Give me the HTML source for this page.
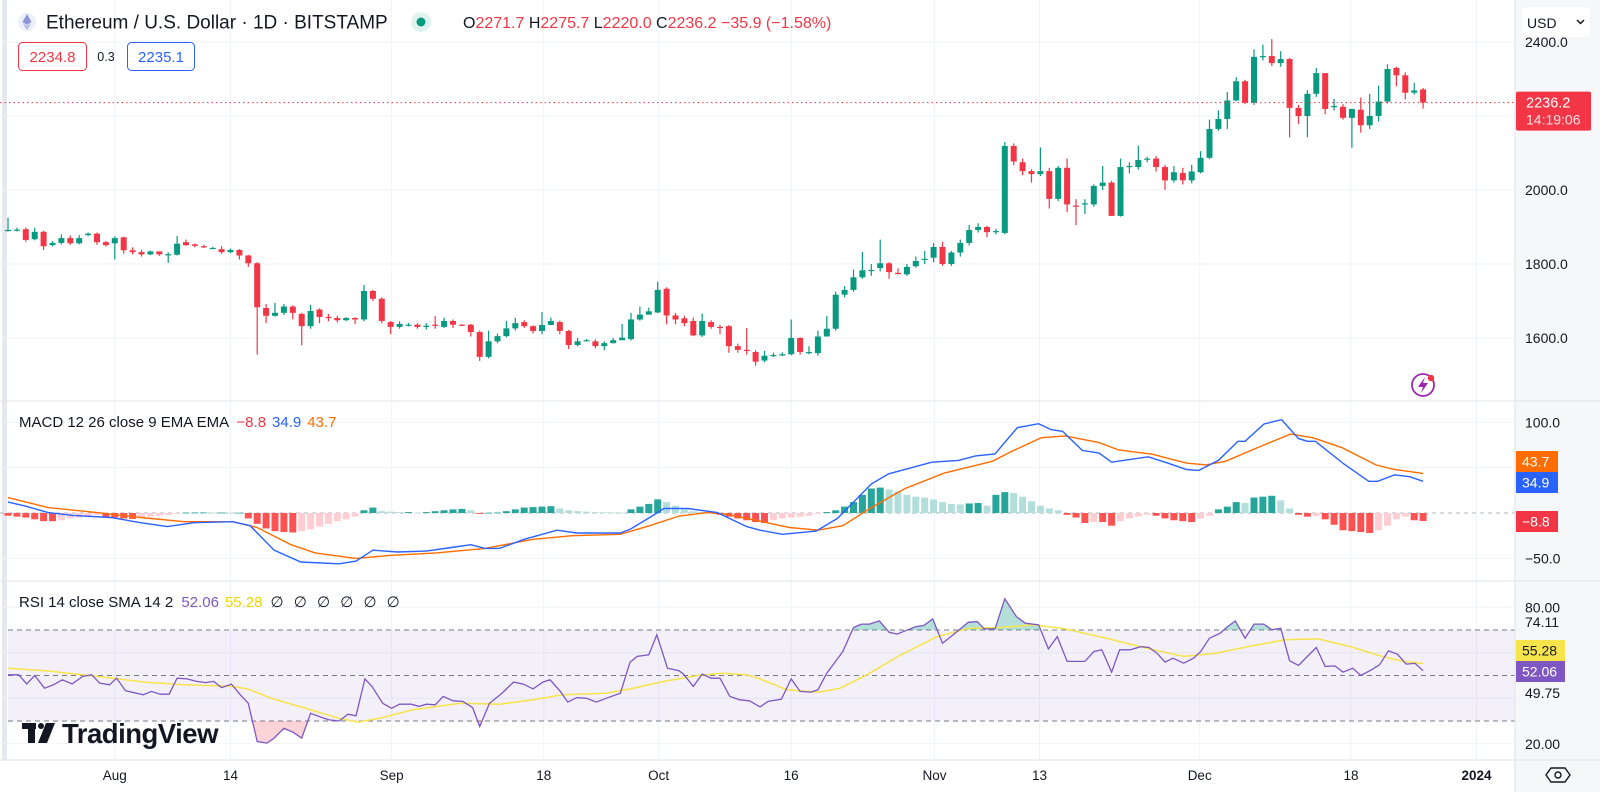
<!DOCTYPE html>
<html><head><meta charset="utf-8"><style>
html,body{margin:0;padding:0;background:#fff;}
svg{display:block;font-family:"Liberation Sans",sans-serif;}
</style></head><body>
<svg id="chart" width="1600" height="792" viewBox="0 0 1600 792" xmlns="http://www.w3.org/2000/svg">
<rect x="0" y="0" width="1600" height="792" fill="#ffffff"/>
<rect x="1515" y="0" width="85" height="792" fill="#f6f7f8"/>
<rect x="2" y="0" width="5" height="760" fill="#e6e8ee"/>
<g id="grid"></g>
<g id="rsiBand"></g>
<g id="candles"></g>
<g id="macd"></g>
<g id="rsi"></g>
<g id="axes"></g>
<line x1="0" y1="401" x2="1600" y2="401" stroke="#e0e3eb" stroke-width="1"/>
<line x1="0" y1="581" x2="1600" y2="581" stroke="#e0e3eb" stroke-width="1"/>
<line x1="0" y1="760" x2="1600" y2="760" stroke="#e0e3eb" stroke-width="1"/>
<line x1="1515" y1="0" x2="1515" y2="792" stroke="#e0e3eb" stroke-width="1"/>
<g>
  <circle cx="27" cy="22" r="9" fill="#eef0f8"/>
  <polygon points="27,14 31.5,22 27,25 22.5,22" fill="#8c93d6"/>
  <polygon points="22.5,23 27,26 31.5,23 27,30" fill="#b0b5e6"/>
  <text x="46" y="28.5" font-size="19" fill="#131722">Ethereum / U.S. Dollar · 1D · BITSTAMP</text>
  <circle cx="421" cy="22" r="10" fill="#e0f3ef"/>
  <circle cx="421" cy="22" r="4.5" fill="#089981"/>
  <text x="463" y="28" font-size="16" fill="#131722">O<tspan fill="#f23645">2271.7</tspan> H<tspan fill="#f23645">2275.7</tspan> L<tspan fill="#f23645">2220.0</tspan> C<tspan fill="#f23645">2236.2</tspan><tspan fill="#f23645"> −35.9 (−1.58%)</tspan></text>
  <rect x="18.5" y="42.5" width="68" height="28" rx="4" fill="#fff" stroke="#f23645"/>
  <text x="52.5" y="62" font-size="15" fill="#f23645" text-anchor="middle">2234.8</text>
  <text x="106" y="61" font-size="12.5" fill="#131722" text-anchor="middle">0.3</text>
  <rect x="127.5" y="42.5" width="67" height="28" rx="4" fill="#fff" stroke="#2962ff"/>
  <text x="161" y="62" font-size="15" fill="#2962ff" text-anchor="middle">2235.1</text>
</g>
<g>
  <rect x="1522" y="7" width="68" height="30" rx="4" fill="#ffffff"/>
  <text x="1527" y="28" font-size="14" fill="#131722">USD</text>
  <polyline points="1577,20 1580.5,23.5 1584,20" fill="none" stroke="#131722" stroke-width="1.5"/>
</g>
<g>
  <rect x="22" y="723" width="14" height="6" fill="#131722"/>
  <rect x="28" y="723" width="7" height="20" fill="#131722"/>
  <circle cx="41" cy="726" r="3" fill="#131722"/>
  <polygon points="46,723 55,723 47,743 38,743" fill="#131722"/>
  <text x="62" y="743" font-size="27.5" font-weight="bold" fill="#131722" letter-spacing="-0.5">TradingView</text>
</g>
<g>
  <circle cx="1423" cy="385" r="11" fill="#fff" stroke="#9c27b0" stroke-width="1.8"/>
  <polygon points="1425,377 1418,387 1423,387 1421,393 1428,383 1423,383" fill="#9c27b0"/>
  <circle cx="1431" cy="378" r="3.2" fill="#f23645"/>
</g>
<text x="19" y="427" font-size="15" fill="#131722">MACD 12 26 close 9 EMA EMA <tspan fill="#f23645" dx="4">−8.8</tspan><tspan fill="#2962ff" dx="6">34.9</tspan><tspan fill="#ff6d00" dx="6">43.7</tspan></text>
<text x="19" y="607" font-size="15" fill="#131722">RSI 14 close SMA 14 2 <tspan fill="#7e57c2" dx="4">52.06</tspan><tspan fill="#f2d600" dx="6">55.28</tspan><tspan dx="8" letter-spacing="3">∅ ∅ ∅ ∅ ∅ ∅</tspan></text>
<g>
  <polygon points="1551,768 1565,768 1570,775 1565,782 1551,782 1546,775" fill="none" stroke="#131722" stroke-width="1.4"/>
  <circle cx="1558" cy="775" r="3" fill="none" stroke="#131722" stroke-width="1.4"/>
</g>
</svg>
<script>
const candleOpen = [1892,1892,1894,1867,1887,1851,1857,1870,1856,1878,1882,1859,1856,1872,1837,1832,1826,1834,1826,1825,1859,1853,1848,1843,1840,1832,1838,1823,1802,1681,1660,1668,1685,1665,1632,1677,1657,1654,1648,1654,1650,1727,1706,1643,1630,1636,1636,1632,1636,1630,1646,1636,1636,1616,1549,1591,1605,1626,1643,1632,1619,1635,1643,1619,1581,1592,1591,1578,1586,1594,1597,1650,1663,1669,1733,1661,1653,1646,1607,1643,1630,1632,1578,1568,1562,1539,1553,1555,1556,1600,1562,1559,1604,1625,1717,1730,1764,1783,1789,1802,1776,1772,1794,1811,1817,1846,1800,1831,1857,1892,1900,1886,1884,2119,2075,2051,2043,2051,1976,2060,1958,1963,1961,2011,2020,1930,2064,2062,2084,2085,2062,2026,2046,2026,2048,2087,2165,2192,2242,2294,2236,2360,2362,2343,2354,2222,2200,2260,2316,2224,2225,2195,2217,2175,2200,2239,2330,2310,2263,2271.7];
const candleClose = [1892,1893,1865,1887,1848,1857,1870,1856,1870,1882,1859,1851,1870,1837,1832,1826,1834,1826,1826.5,1855,1851,1849,1847,1843.5,1832,1838,1823,1802,1683,1660,1668,1685,1668,1632,1673,1657,1654,1648,1654,1650,1727,1706,1646,1630,1638,1636,1630,1633,1635,1646,1636,1635,1616,1549,1591,1605,1626,1640,1632,1619,1635,1646,1619,1581,1591,1594,1578,1586,1594,1601,1650,1663,1672,1730,1661,1650,1640,1607,1646,1630,1629,1578,1568,1567,1536,1552,1554,1556,1600,1562,1562,1604,1625,1717,1730,1764,1783,1784,1802,1778,1775,1792,1808,1814,1846,1800,1831,1857,1892,1900,1886,1889,2119,2077,2051,2043,2051,1976,2060,1961,1957,1964,2011,2020,1930,2062,2065,2081,2085,2062,2026,2048,2026,2050,2087,2165,2192,2242,2294,2236,2360,2362,2343,2354,2222,2200,2260,2316,2219,2227,2195,2219,2175,2200,2239,2327,2310,2263,2269,2236.2];
const candleHigh = [1925,1898,1898,1898,1890,1862,1880,1877,1878,1885,1885,1862,1875,1874,1845,1838,1836,1834,1832,1876,1866,1855,1852,1846,1848,1842,1840,1825,1805,1692,1695,1692,1688,1668,1690,1680,1665,1660,1656,1656,1743,1730,1710,1646,1645,1641,1640,1640,1659,1655,1650,1638,1638,1620,1620,1612,1646,1655,1648,1634,1670,1655,1647,1622,1600,1597,1596,1591,1600,1638,1668,1685,1682,1752,1737,1668,1660,1655,1666,1648,1635,1635,1585,1627,1567,1565,1560,1561,1650,1602,1578,1620,1660,1725,1740,1785,1832,1800,1866,1805,1788,1800,1820,1835,1857,1860,1835,1866,1905,1910,1903,1895,2130,2126,2085,2056,2115,2060,2065,2085,1975,1975,2015,2065,2025,2085,2075,2120,2090,2092,2068,2065,2060,2068,2105,2190,2215,2265,2305,2298,2380,2393,2408,2375,2357,2230,2270,2330,2316,2246,2232,2220,2250,2260,2282,2340,2333,2318,2290,2275.7];
const candleLow = [1888,1888,1860,1864,1838,1848,1853,1852,1853,1875,1852,1847,1812,1828,1826,1820,1824,1822,1803,1823,1849,1845,1843,1840,1828,1829,1812,1792,1555,1640,1658,1662,1650,1580,1625,1640,1645,1642,1646,1638,1645,1700,1640,1610,1625,1631,1625,1623,1625,1627,1627,1633,1604,1538,1545,1586,1602,1620,1627,1612,1610,1640,1610,1570,1578,1591,1572,1567,1585,1595,1593,1647,1665,1667,1637,1637,1632,1605,1603,1625,1610,1560,1560,1555,1525,1534,1549,1551,1553,1555,1556,1552,1604,1620,1710,1725,1760,1768,1780,1760,1772,1768,1790,1800,1805,1795,1795,1820,1850,1885,1872,1880,1880,2067,2040,2020,2038,1950,1970,1940,1905,1935,1955,2000,1930,1928,2045,2055,2075,2050,2000,2020,2015,2018,2045,2083,2160,2165,2240,2232,2230,2350,2335,2333,2142,2178,2143,2252,2205,2215,2190,2114,2155,2165,2185,2234,2280,2245,2258,2220];

const macdIdx = [0,2,4.5,7.3,11.6,14.9,17.9,20.9,25.2,27.2,29.9,32.9,37.2,39.1,41,43.8,47,49.8,52,53.6,55.2,58,61.7,63.9,68.8,69.9,72.1,73.7,76.4,79.7,83,84.5,87,90.8,93.2,97,98.9,103.8,106.8,108.7,110.9,113.4,115.8,117.2,118.5,120.7,122.6,124,128.1,130.3,132.4,133.8,136,138.2,139,141.1,143.1,145,146,146.9,150.1,152.9,153.9,155.8,157.5,159];
const macdVal = [12,7.5,0.4,-2.6,-5,-10.7,-15,-10.7,-9.6,-14,-41,-54,-56,-53,-41,-43,-42,-38,-35,-39,-39,-29,-19,-22,-22,-18,-5,5,5,0.4,-15,-19,-23.5,-20,-6,32,43,56,58,63,65,94,98.5,92,90,69,66,56,62,55,48,47,58,79,79,98,103,82,79,79,54,35,35,42,40,34.9];
const signalIdx = [0,4.5,10,14.9,19.8,25.2,28,31.8,34.5,39.1,42.7,48.1,53.6,59,63.4,68.8,72.1,75.4,78.6,80.8,84.5,87.8,91,93.8,97,100.8,105.2,110.6,112.8,116.1,118.8,122.6,124.8,128.6,132.4,134.6,136.8,141.1,144.1,146.6,149.9,153.7,155.8,159];
const signalVal = [17,6,0.4,-5,-9.6,-9.6,-16,-35,-44,-50,-47,-44,-39,-29,-25,-23.5,-14,-3.3,0.4,-1.5,-9,-16,-19,-14,6,27,44,57,68,83,85,77.6,69.5,64.7,55,53,57,75,87,83,72,53,48,43.7];
const histVal = [-3,-4,-5,-7,-9,-9,-8,-6,-5,-3,-2,-4,-5,-6,-6.5,-6,-4,-3,-2,-1,0.5,0.6,0.6,0.5,0.5,0.3,0.3,-6,-12,-17,-20,-21,-21.5,-20,-18,-15,-12,-9,-7,-4,3,6,2,1.5,1,1,0.5,1,2,3,4,4.5,3,-1,0.3,0.5,2,4,6,6.5,7,7.5,5,3,2,1.5,1,0.8,0.6,0.5,4,7,10,15,12,8,4,2,1,0.5,-2,-4,-6,-8,-10,-11,-8,-6,-5,-4,-3,-1,1,3,7,12,20,27,28,26,24,20,18,17,15,12,10,9.5,10.5,11,8,20,23,22,18,13,8,5,3,-2,-5,-11,-10,-10,-14,-9,-6,-4,-2,-3,-6,-8,-9,-10,-6,-3,4,7,12,11,17,18,19,14,5,-2,-4,-3,-7,-13,-19,-20,-21,-22,-19,-14,-7,-4,-8,-8.8];

const rsiIdx = [0,1.2,2.1,3,4.1,5.1,6.1,7.2,8.4,9.4,10.3,11.4,12.2,13.2,15.2,16.1,17.1,18.1,19,20.1,21.2,22.2,23.1,24,25.1,26.1,27,28,29.1,29.9,31,32,33,34,35.3,36.1,37.2,38.2,39.1,40.1,40.9,42.1,43.1,44,45.3,46.2,47,48,48.9,50,51.1,52.2,53,54.1,55.5,56.8,57.9,59,60.1,60.9,62,62.9,63.9,65,66.1,67.2,68.8,69.9,70.7,72,72.9,74.1,75.4,75.9,77,78,79,80,81.1,82.2,83.3,84.5,85.4,86.9,88,89,90.2,91,92,93.8,95,95.9,96.8,97.9,99,99.9,101.1,102,102.9,103.9,105,106.2,107.9,108.9,109.7,110.9,112,113.3,114.3,115.8,116.9,117.9,119,121,122,122.9,124,124.9,126.1,127.3,128.2,129.1,130,130.9,132.1,133.2,134,135,136.2,136.9,137.9,139,140,141.1,142,143,144,145,146.1,147,148,149.1,150,151.1,152,153.2,154.1,155.1,156.1,157.1,158.1,159];
const rsiVal = [50.3,50.3,46.3,50,44.4,45.9,48.1,46.3,49.6,50.3,46.6,45.9,48.8,43.3,41.5,43,41.8,41.8,48.8,48.5,47.4,46.9,47.4,44.7,46.2,41.5,37.8,21,20.3,22.5,26.8,25.1,22.5,33.4,31.5,30.5,30,33,32.3,48.5,45.2,37.8,35.6,37.4,37.4,36.4,37.4,37.1,40.8,38.9,38.6,35.9,27.6,37.8,42.2,47.1,46.2,44.1,47.1,48.1,43.3,38.3,40.3,40,38.3,40,42.2,55.9,58.4,59.1,67.9,53.2,52.1,50.6,45.2,50.6,48.8,48.8,40.8,39.3,38.9,36.2,38.6,39.6,48.5,43,42.7,43.7,51,60.5,71.1,72.6,72.6,74,69,68.2,70.1,71.5,72,74.9,64.2,67.9,73.4,73.7,70.5,70.5,83.7,75.9,73,72.3,61.7,67.1,56.2,56.2,60.5,61.3,51.5,61.3,61.3,62.7,62.3,59.8,55.9,57.6,55.4,57.6,60.5,66.4,68.6,71.1,74,66.4,72.6,72.6,70.1,70.8,56.5,54.4,58.8,62.3,54,54.2,51.5,53.2,50,52.5,54.7,60.8,59.4,55,55.3,52.06];
const smaIdx = [0,4.5,10,15.4,19.8,25.2,26.9,29.6,34,37.2,39.4,42.1,45.4,50.8,55.2,59,62.3,67.2,69.9,73.7,77.5,80.2,83,84.5,87.5,91.1,93.5,96.5,100.2,104.4,108,111.6,115.2,118.8,123.7,127.9,132.1,135.7,139.3,143.5,147.2,150.8,154.4,156.8,159];
const smaVal = [53.2,52,49.6,47.1,45.9,45.2,44.1,40,34.9,31.2,29.5,31.5,34.9,37.8,37.4,39.3,41.5,42.2,44.1,47.4,50,51,50.3,48.5,43.7,42.7,44.4,50.3,58.8,67.1,70.8,71.1,72.3,70.5,66.1,62,58.4,59.8,62.7,65.7,66.1,62.7,58.4,56.2,55.28];

const priceGridTicks = [1600,1800,2000,2200,2400];
const priceTickLabels = ["1600.0","1800.0","2000.0","","2400.0"];
const macdTicks = [100,50,0,-50];
const macdTickLabels = ["100.0","","0.0","−50.0"];
const rsiBands = [70,50,30];
const rsiGridTicks = [80,60,40,20];
const timeIdx = [12,25,43.1,60.2,73.1,88,104.1,115.9,133.9,150.9,165];
const timeLabels = ["Aug","14","Sep","18","Oct","16","Nov","13","Dec","18","2024"];
const lastPrice = 2236.2;

const NS = "http://www.w3.org/2000/svg";
const xOf = i => 8 + i * 8.9;
const yP = p => 190 - (p - 2000) / 2.703;
const yM = v => 513 - v * 0.907;
const yR = v => 675.5 - (v - 50) * 2.275;
function mk(tag, attrs, parent) {
  const e = document.createElementNS(NS, tag);
  for (const k in attrs) e.setAttribute(k, attrs[k]);
  parent.appendChild(e);
  return e;
}
const grid = document.getElementById('grid');
const axes = document.getElementById('axes');

timeIdx.forEach((t, k) => {
  const l = mk('line', {x1: xOf(t), x2: xOf(t), y1: 0, y2: 760, stroke: '#f0f3fa', 'stroke-width': 1}, grid);
  
  
  const tx = mk('text', {x: xOf(t), y: 780, 'font-size': 13.5, fill: '#131722', 'text-anchor': 'middle', 'font-weight': timeLabels[k] === '2024' ? 'bold' : 'normal'}, axes);
  tx.textContent = timeLabels[k];
  
  
});
priceGridTicks.forEach((p, k) => {
  const l = mk('line', {x1: 0, x2: 1515, y1: yP(p), y2: yP(p), stroke: '#f0f3fa', 'stroke-width': 1}, grid);
  
  
  if (priceTickLabels[k]) {
    const t = mk('text', {x: 1525, y: yP(p) + 5, 'font-size': 14, fill: '#131722'}, axes);
    t.textContent = priceTickLabels[k];
    
    
  }
});
macdTicks.forEach((v, k) => {
  const l = mk('line', {x1: 0, x2: 1515, y1: yM(v), y2: yM(v), stroke: v === 0 ? '#b2b5be' : '#f0f3fa', 'stroke-width': 1, 'stroke-dasharray': v === 0 ? '4 4' : ''}, grid);
  
  
  if (macdTickLabels[k] && v !== 0) {
    const t = mk('text', {x: 1525, y: yM(v) + 5, 'font-size': 14, fill: '#131722'}, axes);
    t.textContent = macdTickLabels[k];
    
    
  }
});
rsiGridTicks.forEach(v => {
  const l = mk('line', {x1: 0, x2: 1515, y1: yR(v), y2: yR(v), stroke: '#f0f3fa', 'stroke-width': 1}, grid);
  
  
});
const band = document.getElementById('rsiBand');
const bandRect = mk('rect', {x: 8, y: yR(rsiBands[0]), width: 1507, height: yR(rsiBands[2]) - yR(rsiBands[0]), fill: 'rgba(126,87,194,0.09)'}, band);


rsiBands.forEach(v => {
  const l = mk('line', {x1: 8, x2: 1515, y1: yR(v), y2: yR(v), stroke: '#787b86', 'stroke-width': 1, 'stroke-dasharray': '5 4'}, band);
  
  
});
[['80.00', 80], ['20.00', 20]].forEach(([s, v]) => {
  const t = mk('text', {x: 1525, y: yR(v) + 5, 'font-size': 14, fill: '#131722'}, axes);
  t.textContent = s;
  
  
});
const t74 = mk('text', {x: 1525, y: 627, 'font-size': 14, fill: '#131722'}, axes);
t74.textContent = '74.11';


const t49 = mk('text', {x: 1525, y: 698, 'font-size': 14, fill: '#131722'}, axes);
t49.textContent = '49.75';



const cg = document.getElementById('candles');
candleClose.forEach((c, i) => {
  const o = candleOpen[i], up = c >= o, col = up ? '#089981' : '#f23645';
  const x = xOf(i);
  const w = mk('line', {x1: x, x2: x, y1: yP(candleHigh[i]), y2: yP(candleLow[i]), stroke: col, 'stroke-width': 1.2}, cg);
  
  
  const top = yP(Math.max(o, c)), bot = yP(Math.min(o, c));
  const b = mk('rect', {x: x - 3, y: top, width: 6, height: Math.max(1.2, bot - top), fill: col}, cg);
  
  
});
const lp = mk('line', {x1: 0, x2: 1515, y1: yP(lastPrice), y2: yP(lastPrice), stroke: '#f23645', 'stroke-width': 1, 'stroke-dasharray': '1.5 3'}, cg);


const lpBox = mk('rect', {x: 1516, y: yP(lastPrice) - 11, width: 75, height: 39, rx: 2, fill: '#f23645'}, axes);


const lpT = mk('text', {x: 1526, y: yP(lastPrice) + 5, 'font-size': 14.5, fill: '#fff'}, axes);
lpT.textContent = lastPrice.toFixed(1);


const lpC = mk('text', {x: 1526, y: yP(lastPrice) + 22, 'font-size': 14, fill: '#ffe0e3'}, axes);
lpC.textContent = '14:19:06';



const mg = document.getElementById('macd');
histVal.forEach((v, i) => {
  const prev = i > 0 ? histVal[i - 1] : v;
  let col;
  if (v >= 0) col = v >= prev ? '#26a69a' : '#b2dfdb';
  else col = v <= prev ? '#ff5252' : '#ffcdd2';
  const y0 = yM(0), y1 = yM(v);
  const r = mk('rect', {x: xOf(i) - 3.5, y: Math.min(y0, y1), width: 7, height: Math.max(0.8, Math.abs(y1 - y0)), fill: col}, mg);
  
  
});
function pathFrom(idx, val, yf) {
  return idx.map((t, k) => (k ? 'L' : 'M') + xOf(t).toFixed(1) + ',' + yf(val[k]).toFixed(1)).join(' ');
}
const sigP = mk('path', {d: pathFrom(signalIdx, signalVal, yM), fill: 'none', stroke: '#ff6d00', 'stroke-width': 1.4}, mg);


const macP = mk('path', {d: pathFrom(macdIdx, macdVal, yM), fill: 'none', stroke: '#2962ff', 'stroke-width': 1.4}, mg);


[['43.7', '#ff6d00', 451], ['34.9', '#2962ff', 472], ['−8.8', '#f23645', 511]].forEach(([s, c, y]) => {
  const r = mk('rect', {x: 1516, y: y, width: 42, height: 21, fill: c}, axes);
  
  
  const t = mk('text', {x: 1522, y: y + 15.5, 'font-size': 14, fill: '#fff'}, axes);
  t.textContent = s;
  
  
});

const rg = document.getElementById('rsi');
const defs = mk('defs', {}, rg);
const cpA = mk('clipPath', {id: 'clipAbove'}, defs);
mk('rect', {x: 0, y: 582, width: 1515, height: yR(70) - 582}, cpA);
const cpB = mk('clipPath', {id: 'clipBelow'}, defs);
mk('rect', {x: 0, y: yR(30), width: 1515, height: 760 - yR(30)}, cpB);
const linePts = pathFrom(rsiIdx, rsiVal, yR);
const lastX = xOf(rsiIdx[rsiIdx.length - 1]).toFixed(1), firstX = xOf(rsiIdx[0]).toFixed(1);
const fa = mk('path', {d: linePts + ' L' + lastX + ',' + yR(70) + ' L' + firstX + ',' + yR(70) + ' Z', fill: 'rgba(8,153,129,0.3)', 'clip-path': 'url(#clipAbove)'}, rg);


const fb = mk('path', {d: linePts + ' L' + lastX + ',' + yR(30) + ' L' + firstX + ',' + yR(30) + ' Z', fill: 'rgba(242,54,69,0.22)', 'clip-path': 'url(#clipBelow)'}, rg);


const smaP = mk('path', {d: pathFrom(smaIdx, smaVal, yR), fill: 'none', stroke: '#f7e34a', 'stroke-width': 1.5}, rg);


const rsiP = mk('path', {d: linePts, fill: 'none', stroke: '#7e57c2', 'stroke-width': 1.3}, rg);


[['55.28', '#f7e34a', '#131722', 640], ['52.06', '#7e57c2', '#fff', 661]].forEach(([s, bg, fg, y]) => {
  const r = mk('rect', {x: 1516, y: y, width: 49, height: 21, fill: bg}, axes);
  
  
  const t = mk('text', {x: 1522, y: y + 15.5, 'font-size': 14, fill: fg}, axes);
  t.textContent = s;
  
  
});
</script>
</body></html>
